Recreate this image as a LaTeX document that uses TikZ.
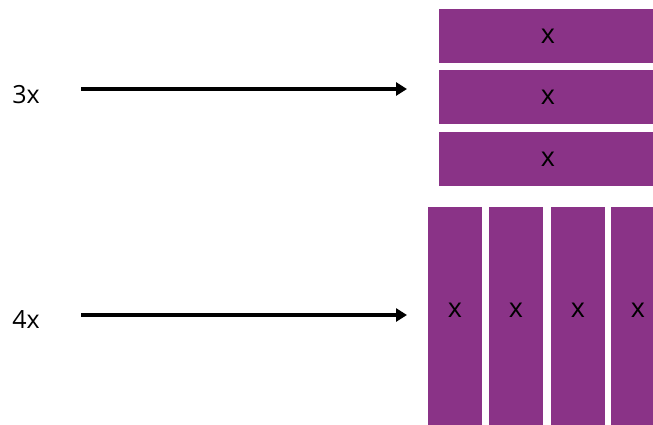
\documentclass[tikz,border=0pt]{standalone}
\usepackage{fontspec}
\setmainfont{Open Sans}
\usepackage{tikz}
\usetikzlibrary{arrows.meta}
\definecolor{barpurple}{RGB}{138,51,135}
\tikzset{
    hbar/.style={fill=barpurple, minimum width=218pt, minimum height=54pt, inner sep=0pt, font=\fontsize{27}{32}\selectfont},
    vbar/.style={fill=barpurple, minimum width=54pt, minimum height=218pt, inner sep=0pt},
    varx/.style={inner sep=0pt, font=\fontsize{27}{32}\selectfont},
    termlabel/.style={inner sep=0pt, font=\fontsize{25}{30}\selectfont},
    maparrow/.style={line width=4.2pt, -{Triangle[length=11pt,width=13pt]}}
}

\begin{document}
\begin{tikzpicture}[x=1pt, y=-1pt]
    \useasboundingbox (0,0) rectangle (653,424);
    \clip (0,0) rectangle (653,424);

    % Labels on the left
    \node[termlabel] (three) at (26,94.5) {3x};
    \node[termlabel] (four) at (26,319.5) {4x};

    % Arrow ends
    \coordinate (a3s) at (81,89);
    \coordinate (a3e) at (407,89);
    \coordinate (a4s) at (81,315);
    \coordinate (a4e) at (407,315);

    % Draw arrows
    \draw[maparrow] (a3s) -- (a3e);
    \draw[maparrow] (a4s) -- (a4e);

    % Three horizontal bars
    \foreach \y [count=\i] in {36,97,159} {
        \node[hbar] (h\i) at (548,\y) {x};
    }

    % Four vertical bars
    \foreach \x [count=\i] in {455,516,578,638} {
        \node[vbar] (v\i) at (\x,316) {};
        \node[varx] (vx\i) at (\x,310) {x};
    }
\end{tikzpicture}
\end{document}
